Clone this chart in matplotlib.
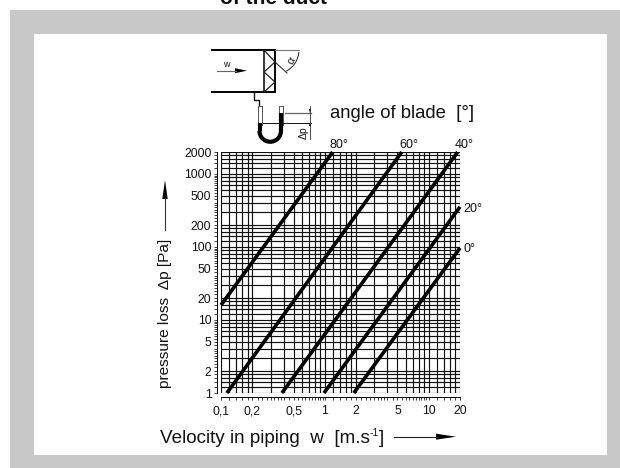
import numpy as np
import matplotlib
matplotlib.use('Agg')
import matplotlib.pyplot as plt
from matplotlib.patches import Rectangle, Arc
from matplotlib.ticker import NullFormatter

plt.rcParams['font.family'] = ['Liberation Sans', 'DejaVu Sans']

W, H = 620, 468

# lines: (w at each end, dp at each end)
angles = ['80', '60', '40', '20', '0']
w_ends = [[0.1, 1.19], [0.114, 5.5], [0.386, 19], [0.98, 20], [1.9, 20]]
dp_ends = [[16, 2000], [1, 2000], [1, 2000], [1, 355], [1, 97]]

x_grid = [0.1, 0.12, 0.14, 0.16, 0.18, 0.2, 0.3, 0.4, 0.5, 0.6, 0.7, 0.8, 0.9,
          1, 1.2, 1.4, 1.6, 1.8, 2, 3, 4, 5, 6, 7, 8, 9, 10, 12, 14, 16, 18, 20]
y_grid = [1, 1.2, 1.4, 1.6, 1.8, 2, 3, 4, 5, 6, 7, 8, 9,
          10, 12, 14, 16, 18, 20, 30, 40, 50, 60, 70, 80, 90,
          100, 120, 140, 160, 180, 200, 300, 400, 500, 600, 700, 800, 900,
          1000, 1200, 1400, 1600, 1800, 2000]
x_labels = {0.1: '0,1', 0.2: '0,2', 0.5: '0,5', 1: '1', 2: '2', 5: '5', 10: '10', 20: '20'}
y_labels = {1: '1', 2: '2', 5: '5', 10: '10', 20: '20', 50: '50', 100: '100',
            200: '200', 500: '500', 1000: '1000', 2000: '2000'}

# extra scale marks between the grid lines, same pattern in every decade
decade_marks = [2.25, 2.5, 2.75, 3.25, 3.5, 3.75, 4.5, 5.5, 6.5, 7.5, 8.5, 9.5]
x_marks = [m * d for d in (0.1, 1) for m in decade_marks]
y_marks = [m * d for d in (1, 10, 100) for m in decade_marks]

fig = plt.figure(figsize=(W / 100, H / 100), dpi=100, facecolor='white')


def box(x0, y0, x1, y1):
    return [x0 / W, 1 - y1 / H, (x1 - x0) / W, (y1 - y0) / H]


fig.patches.append(Rectangle((10 / W, 0), 1, 1 - 10 / H, transform=fig.transFigure,
                             facecolor='#c8c8c8', edgecolor='none', zorder=-3))
fig.patches.append(Rectangle((34 / W, 1 - 455 / H), (607 - 34) / W, (455 - 34) / H,
                             transform=fig.transFigure, facecolor='white',
                             edgecolor='none', zorder=-2))

ax = fig.add_axes(box(221, 152, 460, 393), facecolor='none')
ax.set_xscale('log')
ax.set_yscale('log')
ax.set_xlim(0.1, 20)
ax.set_ylim(1, 2000)

ax.set_xticks(x_grid)
ax.set_yticks(y_grid)
ax.set_xticks(x_marks, minor=True)
ax.set_yticks(y_marks, minor=True)
ax.set_xticklabels([x_labels.get(v, '') for v in x_grid])
ax.set_yticklabels([y_labels.get(v, '') for v in y_grid])
ax.xaxis.set_minor_formatter(NullFormatter())
ax.yaxis.set_minor_formatter(NullFormatter())
ax.grid(True, which='major', color='#111111', lw=0.85)
ax.set_axisbelow(True)
ax.tick_params(which='both', length=2.4, width=0.6, color='#222222')
ax.tick_params(axis='both', labelsize=8.8, labelcolor='#111111', pad=1.5)
ax.tick_params(axis='x', pad=3.5)

for name in ['top', 'right']:
    ax.spines[name].set_visible(False)
ax.spines['left'].set_position(('outward', 3))
ax.spines['bottom'].set_position(('outward', 3))
ax.spines['left'].set_bounds(1, 2000)
ax.spines['bottom'].set_bounds(0.1, 20)
ax.spines['left'].set_linewidth(0.7)
ax.spines['bottom'].set_linewidth(0.7)

for w, dp in zip(w_ends, dp_ends):
    ax.plot(w, dp, color='black', lw=2.6, solid_capstyle='butt', clip_on=False, zorder=5)

# overlay in pixel coordinates for the sketch and the loose labels
ov = fig.add_axes([0, 0, 1, 1], facecolor='none')
ov.set_xlim(0, W)
ov.set_ylim(H, 0)
ov.axis('off')

ov.text(273.5, 4, 'of the duct', ha='center', va='baseline', fontsize=15, fontweight='bold', color='#111111')

# duct and filter
ov.plot([212, 275], [50, 50], color='black', lw=1.4)
ov.plot([212, 275], [92, 92], color='black', lw=1.4)
ov.plot([264, 264], [50, 92], color='black', lw=1.1)
ov.plot([275, 275], [50, 92], color='black', lw=1.4)
ov.plot([264, 275, 264, 275, 264], [50, 62, 72, 82, 92], color='#222222', lw=0.9)

# blade angle
ov.plot([275, 299], [50, 50], color='#777777', lw=0.8)
ov.plot([275, 287], [62, 73], color='#222222', lw=0.7)
ov.add_patch(Arc((275, 50), 48, 48, theta1=5, theta2=62, color='#222222', lw=0.7))
ov.text(291.5, 61, 'α', fontsize=8, rotation=60, ha='center', va='center', color='#111111')

# velocity arrow
ov.text(226, 64.5, 'w', fontsize=6.5, ha='center', va='center', color='#111111')
ov.plot([217, 236], [70.7, 70.7], color='#666666', lw=0.8)
ov.fill([235, 247, 235], [68.2, 70.7, 73.2], color='black', lw=0)

# manometer
ov.plot([254, 254, 259, 259], [92, 100, 100, 106], color='#111111', lw=1.0)
for x in (257.5, 261.5, 279, 283):
    ov.plot([x, x], [106, 125], color='#555555', lw=0.7)
ov.plot([257.5, 261.5], [106, 106], color='#555555', lw=0.7)
ov.plot([279, 283], [106, 106], color='#555555', lw=0.7)
ov.plot([259.5, 259.5], [123, 131], color='black', lw=3, solid_capstyle='butt')
ov.plot([281, 281], [113, 131], color='black', lw=3, solid_capstyle='butt')
ov.add_patch(Arc((270.2, 131), 21.5, 21.5, theta1=0, theta2=180, color='black', lw=3))

# dp dimension
ov.plot([285, 311], [113, 113], color='#666666', lw=0.9)
ov.plot([263, 311], [122.5, 122.5], color='#111111', lw=0.7)
ov.plot([310, 310], [106, 139], color='#333333', lw=0.6)
ov.fill([308.8, 311.2, 310], [109, 109, 113], color='black', lw=0)
ov.fill([308.8, 311.2, 310], [126, 126, 122.5], color='black', lw=0)
ov.text(304, 132.5, 'Δp', fontsize=7.5, rotation=90, ha='center', va='center', color='#111111')

ov.text(330, 118.5, 'angle of blade  [°]', fontsize=13.3, ha='left', va='baseline', color='#111111')

# labels at the end of each line
label_pos = [(330, 148), (399, 148), (455, 148), (463, 211.5), (463, 252.5)]
for a, (x, y) in zip(angles, label_pos):
    ov.text(x, y, a + '°', fontsize=9, ha='left', va='baseline', color='#111111')

# axis titles with arrows
ov.text(165, 313, 'pressure loss  Δp [Pa]', fontsize=11.1, rotation=90, ha='center', va='center', color='#111111')
ov.plot([165, 165], [230, 198], color='#333333', lw=0.8)
ov.fill([162.3, 167.7, 165], [199, 199, 180], color='black', lw=0)

ov.text(370, 443, 'Velocity in piping  w  [m.s', fontsize=13.6, ha='right', va='baseline', color='#111111')
ov.text(370, 436, '-1', fontsize=7.5, ha='left', va='baseline', color='#111111')
ov.text(378.5, 443, ']', fontsize=13.6, ha='left', va='baseline', color='#111111')
ov.plot([394, 438], [436.7, 436.7], color='#222222', lw=0.8)
ov.fill([436, 456, 436], [433.7, 436.7, 439.7], color='black', lw=0)

fig.savefig('out.png', dpi=100)
